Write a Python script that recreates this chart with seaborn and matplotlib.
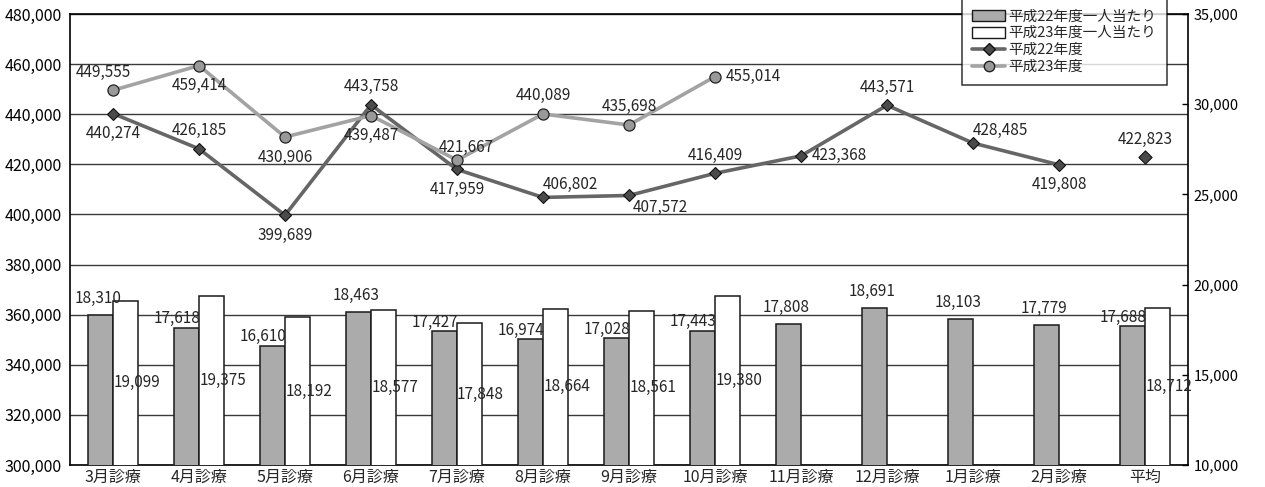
import numpy as np
import pandas as pd
import matplotlib
matplotlib.use("Agg")
import matplotlib.pyplot as plt
from matplotlib.patches import Patch
from matplotlib.lines import Line2D
from matplotlib.ticker import FuncFormatter, MultipleLocator
import seaborn as sns

# ---- data ----
months = ["3月診療", "4月診療", "5月診療", "6月診療", "7月診療", "8月診療", "9月診療",
          "10月診療", "11月診療", "12月診療", "1月診療", "2月診療", "平均"]
per_person_h22 = [18310, 17618, 16610, 18463, 17427, 16974, 17028, 17443, 17808,
                  18691, 18103, 17779, 17688]
per_person_h23 = [19099, 19375, 18192, 18577, 17848, 18664, 18561, 19380, np.nan,
                  np.nan, np.nan, np.nan, 18712]
total_h22 = [440274, 426185, 399689, 443758, 417959, 406802, 407572, 416409, 423368,
             443571, 428485, 419808]
total_h22_avg = 422823
total_h23 = [449555, 459414, 430906, 439487, 421667, 440089, 435698, 455014]

series_bar = ["平成22年度一人当たり", "平成23年度一人当たり"]
series_line = ["平成22年度", "平成23年度"]

# label placement codes (layout only)
pos_h22 = ["below", "above", "below", "above", "below", "upright", "lowright",
           "above", "right", "above", "upright", "below"]
pos_h23 = ["aboveleft", "below", "below", "below", "aboveright", "above", "above", "right"]
bar22_align = ["c", "r", "r", "c", "r", "r", "r", "r", "c", "c", "c", "c", "r"]

sns.set_style("white")
plt.rcParams["font.family"] = ["Noto Sans CJK JP", "DejaVu Sans"]

W, H = 1265, 487
fig, ax = plt.subplots(figsize=(W / 100, H / 100), dpi=100)
fig.subplots_adjust(left=70 / W, right=1188 / W, top=1 - 14 / H, bottom=1 - 465 / H)
ax2 = ax.twinx()

# ---- bars on the right axis ----
bars = pd.DataFrame({
    "month": months * 2,
    "value": per_person_h22 + per_person_h23,
    "series": [series_bar[0]] * len(months) + [series_bar[1]] * len(months),
})
sns.barplot(data=bars, x="month", y="value", hue="series", order=months,
            hue_order=series_bar, palette=["#ababab", "#ffffff"], width=0.58,
            gap=0, edgecolor="#1a1a1a", linewidth=1.1, errorbar=None,
            legend=False, ax=ax2)
ax2.set_ylim(10000, 35000)
ax2.yaxis.set_major_locator(MultipleLocator(5000))
ax2.yaxis.set_major_formatter(FuncFormatter(lambda v, p: f"{v:,.0f}"))
ax2.tick_params(axis="y", direction="in", length=4, width=1, pad=4, labelsize=10.5,
                colors="black")
ax2.set_ylabel("")
ax2.set_xlabel("")

# bar labels
for k, cont in enumerate(ax2.containers):
    for patch in cont.patches:
        h = patch.get_height()
        if np.isnan(h):
            continue
        xc = patch.get_x() + patch.get_width() / 2
        idx = int(round(xc))
        if k == 0:
            if bar22_align[idx] == "r":
                ax2.annotate(f"{h:,.0f}", (patch.get_x() + patch.get_width(), h),
                             xytext=(1, 6.5), textcoords="offset points",
                             ha="right", va="center", fontsize=11)
            else:
                ax2.annotate(f"{h:,.0f}", (xc, h), xytext=(-2, 12),
                             textcoords="offset points", ha="center", va="center",
                             fontsize=11)
        else:
            ax2.annotate(f"{h:,.0f}", (xc, (10000 + h) / 2), xytext=(8, 0),
                         textcoords="offset points", ha="center", va="center",
                         fontsize=11)

# ---- lines on the left axis ----
x_all = np.arange(len(months))
df22 = pd.DataFrame({"x": x_all[:len(total_h22)], "v": total_h22})
df23 = pd.DataFrame({"x": x_all[:len(total_h23)], "v": total_h23})
sns.lineplot(data=df22, x="x", y="v", color="#666666", lw=2.6, marker="D",
             markersize=6.5, markerfacecolor="#4a4a4a", markeredgecolor="#111111",
             markeredgewidth=0.8, ax=ax)
sns.lineplot(data=df23, x="x", y="v", color="#a3a3a3", lw=2.6, marker="o",
             markersize=8, markerfacecolor="#999999", markeredgecolor="#222222",
             markeredgewidth=0.9, ax=ax)
sns.scatterplot(x=[x_all[-1]], y=[total_h22_avg], marker="D", s=45, color="#4a4a4a",
                edgecolor="#111111", linewidth=0.8, ax=ax, zorder=5)

offsets = {
    "above": (0, 13, "center"), "below": (0, -14.5, "center"),
    "aboveleft": (-7, 13, "center"), "aboveright": (7, 9, "center"),
    "right": (8, 0, "left"), "upright": (0, 9, "left"),
    "lowright": (3, -8.5, "left"),
}


def label_line(xs, vals, codes):
    for xv, v, c in zip(xs, vals, codes):
        dx, dy, ha = offsets[c]
        ax.annotate(f"{v:,.0f}", (xv, v), xytext=(dx, dy), textcoords="offset points",
                    ha=ha, va="center", fontsize=11, zorder=6)


label_line(df22["x"], total_h22, pos_h22)
label_line(df23["x"], total_h23, pos_h23)
label_line([x_all[-1]], [total_h22_avg], ["above"])

ax.set_ylim(300000, 480000)
ax.yaxis.set_major_locator(MultipleLocator(20000))
ax.yaxis.set_major_formatter(FuncFormatter(lambda v, p: f"{v:,.0f}"))
ax.tick_params(axis="y", length=0, pad=6, labelsize=11.5, colors="black")
ax.grid(axis="y", color="#3a3a3a", lw=1)
ax.grid(axis="x", visible=False)
ax.set_xlim(-0.5, len(months) - 0.5)
ax.set_xticks(x_all)
ax.set_xticklabels(months, fontsize=11.5)
ax.set_xticks(x_all[:-1] + 0.5, minor=True)
ax.tick_params(axis="x", which="major", length=0, pad=3)
ax.tick_params(axis="x", which="minor", direction="in", length=5, width=1, color="black")
ax.set_xlabel("")
ax.set_ylabel("")

for sp in ["left", "bottom", "top"]:
    ax.spines[sp].set_color("black")
    ax.spines[sp].set_linewidth(1.2)
ax.spines["right"].set_visible(False)
for sp in ["left", "bottom", "top"]:
    ax2.spines[sp].set_visible(False)
ax2.spines["right"].set_color("black")
ax2.spines["right"].set_linewidth(1.2)

# ---- legend ----
handles = [
    Patch(facecolor="#ababab", edgecolor="#1a1a1a", lw=1),
    Patch(facecolor="#ffffff", edgecolor="#1a1a1a", lw=1),
    Line2D([], [], color="#666666", lw=2.6, marker="D", markersize=6,
           markerfacecolor="#4a4a4a", markeredgecolor="#111111"),
    Line2D([], [], color="#a3a3a3", lw=2.6, marker="o", markersize=7.5,
           markerfacecolor="#999999", markeredgecolor="#222222"),
]
leg = fig.legend(handles, series_bar + series_line, loc="lower right",
                 bbox_to_anchor=(1167 / W, 1 - 85 / H), frameon=True, fancybox=False,
                 fontsize=10.5, handlelength=2.2, handleheight=0.8, labelspacing=0.2,
                 borderpad=0.75, handletextpad=0.25, borderaxespad=0)
leg.get_frame().set_edgecolor("black")
leg.get_frame().set_linewidth(1.1)

fig.savefig("out.png", dpi=100)
